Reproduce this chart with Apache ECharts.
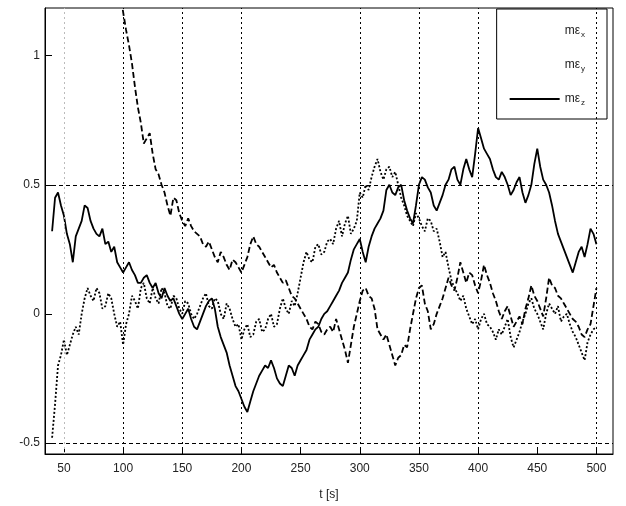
<!DOCTYPE html>
<html>
<head>
<meta charset="utf-8">
<script src="https://cdn.jsdelivr.net/npm/echarts@6/dist/echarts.min.js"></script>
<style>
  html, body { margin: 0; padding: 0; background: #fff; }
  #chart { width: 626px; height: 506px; }
</style>
</head>
<body>
<div id="chart"></div>
<script>
// time samples [s]
const timeS = [
  40,42.5,45,47.5,50,52.5,55,57.5,60,62.5,
  65,67.5,70,72.5,75,77.5,80,82.5,85,87.5,
  90,92.5,95,97.5,100,102.5,105,107.5,110,112.5,
  115,117.5,120,122.5,125,127.5,130,132.5,135,137.5,
  140,142.5,145,147.5,150,152.5,155,157.5,160,162.5,
  165,167.5,170,172.5,175,177.5,180,182.5,185,187.5,
  190,192.5,195,197.5,200,202.5,205,207.5,210,212.5,
  215,217.5,220,222.5,225,227.5,230,232.5,235,237.5,
  240,242.5,245,247.5,250,252.5,255,257.5,260,262.5,
  265,267.5,270,272.5,275,277.5,280,282.5,285,287.5,
  290,292.5,295,297.5,300,302.5,305,307.5,310,312.5,
  315,317.5,320,322.5,325,327.5,330,332.5,335,337.5,
  340,342.5,345,347.5,350,352.5,355,357.5,360,362.5,
  365,367.5,370,372.5,375,377.5,380,382.5,385,387.5,
  390,392.5,395,397.5,400,402.5,405,407.5,410,412.5,
  415,417.5,420,422.5,425,427.5,430,432.5,435,437.5,
  440,442.5,445,447.5,450,452.5,455,457.5,460,462.5,
  465,467.5,470,472.5,475,477.5,480,482.5,485,487.5,
  490,492.5,495,497.5,500
];

const seriesNames = ['mε_x', 'mε_y', 'mε_z'];

const meX = [
  -0.48,-0.35,-0.2,-0.16,-0.1,-0.16,-0.12,-0.08,-0.05,-0.08,
  0.0,0.06,0.1,0.07,0.05,0.1,0.08,0.02,0.03,0.08,
  0.06,0.0,-0.05,-0.03,-0.12,-0.04,0.0,0.07,0.05,0.02,
  0.1,0.12,0.06,0.04,0.1,0.06,0.04,0.1,0.08,0.03,
  0.02,0.07,0.06,0.02,0.0,0.05,0.04,0.0,-0.02,0.0,
  0.03,0.06,0.08,0.03,0.02,0.06,0.05,0.0,-0.02,0.04,
  0.02,-0.02,-0.05,-0.04,-0.1,-0.06,-0.04,-0.09,-0.08,-0.03,
  -0.02,-0.07,-0.06,-0.02,0.0,-0.05,-0.04,0.02,0.06,0.02,
  0.0,0.05,0.03,0.08,0.14,0.2,0.24,0.21,0.2,0.26,
  0.27,0.23,0.24,0.28,0.29,0.27,0.33,0.36,0.3,0.35,
  0.38,0.31,0.33,0.36,0.47,0.45,0.5,0.48,0.53,0.57,
  0.6,0.55,0.52,0.56,0.57,0.53,0.55,0.5,0.45,0.42,
  0.38,0.36,0.34,0.39,0.37,0.34,0.32,0.37,0.36,0.32,
  0.33,0.28,0.22,0.24,0.18,0.13,0.1,0.08,0.05,0.07,
  0.02,-0.01,-0.04,-0.02,-0.06,-0.02,0.0,-0.04,-0.05,-0.07,
  -0.1,-0.06,-0.08,-0.05,-0.02,-0.09,-0.13,-0.1,-0.07,-0.03,
  0.0,0.04,0.06,0.02,0.0,-0.03,-0.06,0.0,0.04,0.02,
  0.0,0.03,-0.03,-0.01,0.0,-0.04,-0.07,-0.09,-0.12,-0.15,
  -0.18,-0.11,-0.08,-0.06,-0.05
];

const meY = [
  null,null,null,null,null,null,null,null,null,null,
  null,null,null,null,null,null,null,null,null,null,
  null,null,1.28,1.24,1.17,1.1,1.04,0.97,0.88,0.8,
  0.74,0.66,0.68,0.7,0.62,0.56,0.54,0.5,0.47,0.42,
  0.38,0.45,0.44,0.39,0.36,0.34,0.37,0.34,0.32,0.31,
  0.3,0.27,0.26,0.28,0.25,0.22,0.2,0.24,0.22,0.19,
  0.17,0.21,0.2,0.18,0.16,0.19,0.22,0.27,0.3,0.27,
  0.26,0.24,0.22,0.2,0.18,0.19,0.16,0.14,0.12,0.13,
  0.1,0.07,0.06,0.04,0.02,0.0,-0.02,-0.05,-0.06,-0.03,
  -0.04,-0.07,-0.08,-0.06,-0.05,-0.07,-0.02,-0.06,-0.1,-0.14,
  -0.19,-0.12,-0.05,0.0,0.05,0.09,0.1,0.07,0.06,0.02,
  -0.06,-0.08,-0.1,-0.08,-0.12,-0.16,-0.2,-0.17,-0.16,-0.12,
  -0.13,-0.06,0.0,0.06,0.1,0.11,0.04,0.01,-0.06,-0.04,
  0.0,0.03,0.06,0.1,0.14,0.11,0.09,0.14,0.2,0.16,
  0.12,0.16,0.15,0.11,0.08,0.13,0.19,0.15,0.12,0.08,
  0.05,0.01,-0.02,0.01,0.03,-0.01,-0.05,-0.03,-0.01,-0.04,
  0.02,0.06,0.11,0.07,0.05,0.02,-0.01,0.06,0.14,0.11,
  0.1,0.07,0.06,0.04,0.02,0.0,-0.02,-0.03,-0.05,-0.08,
  -0.09,-0.06,-0.04,0.03,0.1
];

const meZ = [
  0.32,0.45,0.47,0.42,0.38,0.31,0.27,0.2,0.3,0.33,
  0.36,0.42,0.41,0.36,0.33,0.31,0.3,0.33,0.27,0.28,
  0.24,0.26,0.2,0.18,0.16,0.18,0.2,0.17,0.15,0.12,
  0.12,0.14,0.15,0.12,0.1,0.12,0.08,0.06,0.1,0.07,
  0.05,0.06,0.03,0.0,-0.02,0.0,0.02,-0.02,-0.05,-0.06,
  -0.03,0.0,0.03,0.05,0.06,0.02,-0.05,-0.09,-0.12,-0.15,
  -0.2,-0.24,-0.28,-0.3,-0.33,-0.36,-0.38,-0.34,-0.3,-0.27,
  -0.24,-0.22,-0.2,-0.21,-0.18,-0.21,-0.25,-0.27,-0.28,-0.24,
  -0.2,-0.21,-0.24,-0.2,-0.18,-0.16,-0.14,-0.1,-0.08,-0.06,
  -0.05,-0.02,0.0,0.01,0.03,0.05,0.07,0.09,0.12,0.14,
  0.16,0.21,0.25,0.27,0.29,0.24,0.2,0.26,0.3,0.33,
  0.35,0.37,0.4,0.48,0.5,0.47,0.46,0.49,0.5,0.44,
  0.4,0.37,0.35,0.42,0.5,0.53,0.52,0.49,0.47,0.42,
  0.4,0.43,0.46,0.5,0.52,0.56,0.57,0.52,0.5,0.56,
  0.6,0.56,0.53,0.62,0.72,0.68,0.64,0.62,0.6,0.56,
  0.53,0.52,0.55,0.53,0.5,0.46,0.48,0.51,0.53,0.47,
  0.43,0.46,0.5,0.58,0.64,0.57,0.52,0.5,0.47,0.42,
  0.36,0.31,0.28,0.25,0.22,0.19,0.16,0.2,0.24,0.26,
  0.22,0.27,0.33,0.31,0.27
];

// axis ticks and grid lines
const xTicks = [50,100,150,200,250,300,350,400,450,500];
const yTicks = [-0.5,0,0.5,1];
const xGridMain = [100,150,200,300,350,400,500];
const xGridFaint = [50];
const yGrid = [-0.5,0.5];

const pairs = vals => timeS.map((t, i) => [t, vals[i]]);

const chart = echarts.init(document.getElementById('chart'), null, { renderer: 'canvas' });

const gridLine = { color: '#000', type: [2, 3], width: 1 };
const font = 'Liberation Sans, Arial, sans-serif';

chart.setOption({
  animation: false,
  backgroundColor: '#fff',
  textStyle: { fontFamily: font },
  grid: { left: 45, right: 13, top: 8, bottom: 52, show: true, borderColor: '#000', borderWidth: 1, backgroundColor: 'transparent' },
  legend: {
    orient: 'vertical',
    right: 19, top: 9,
    padding: [16, 22, 12, 12],
    itemGap: 20,
    itemWidth: 50, itemHeight: 14,
    backgroundColor: '#fff',
    borderColor: '#000', borderWidth: 1,
    data: [
      { name: seriesNames[0], lineStyle: { opacity: 0 }, itemStyle: { opacity: 0 } },
      { name: seriesNames[1], lineStyle: { opacity: 0 }, itemStyle: { opacity: 0 } },
      { name: seriesNames[2], itemStyle: { opacity: 0 } }
    ],
    formatter: n => '{m|mε}{s|' + n.split('_')[1] + '}',
    textStyle: {
      color: '#222',
      rich: {
        m: { fontSize: 12, color: '#222', fontFamily: font },
        s: { fontSize: 8, color: '#222', padding: [8, 0, 0, 1], fontFamily: font }
      }
    }
  },
  xAxis: {
    type: 'value', min: 34, max: 514,
    name: 't [s]', nameLocation: 'middle', nameGap: 35,
    nameTextStyle: { color: '#222', fontSize: 12 },
    axisLine: { show: true, onZero: false, lineStyle: { color: '#000', width: 1 } },
    axisTick: { show: true, inside: true, length: 7, customValues: xTicks, lineStyle: { color: '#000' } },
    axisLabel: { customValues: xTicks, color: '#222', fontSize: 12, margin: 9 },
    splitLine: { show: false }
  },
  yAxis: {
    type: 'value', min: -0.543, max: 1.185,
    axisLine: { show: true, onZero: false, lineStyle: { color: '#000', width: 1 } },
    axisTick: { show: true, inside: true, length: 7, customValues: yTicks, lineStyle: { color: '#000' } },
    axisLabel: { customValues: yTicks, color: '#222', fontSize: 12, margin: 5,
      formatter: v => String(Math.round(v * 10) / 10) },
    splitLine: { show: false }
  },
  series: [
    {
      name: seriesNames[0], type: 'line', data: pairs(meX), showSymbol: false, symbol: 'none',
      lineStyle: { color: '#000', width: 1.8, type: [2, 2] }, itemStyle: { color: '#000' },
      z: 3
    },
    {
      name: seriesNames[1], type: 'line', data: pairs(meY), showSymbol: false, symbol: 'none',
      connectNulls: false,
      lineStyle: { color: '#000', width: 1.8, type: [6, 3] }, itemStyle: { color: '#000' },
      z: 3
    },
    {
      name: seriesNames[2], type: 'line', data: pairs(meZ), showSymbol: false, symbol: 'none',
      lineStyle: { color: '#000', width: 1.8 }, itemStyle: { color: '#000' },
      z: 3,
      markLine: {
        silent: true, symbol: 'none', animation: false,
        label: { show: false },
        data: [
          ...xGridMain.map(v => ({ xAxis: v, lineStyle: gridLine })),
          ...xGridFaint.map(v => ({ xAxis: v, lineStyle: { color: '#bbb', type: [2, 3], width: 1 } })),
          ...yGrid.map(v => ({ yAxis: v, lineStyle: { color: '#000', type: [4, 3], width: 1 } }))
        ]
      }
    }
  ]
});
</script>
</body>
</html>
